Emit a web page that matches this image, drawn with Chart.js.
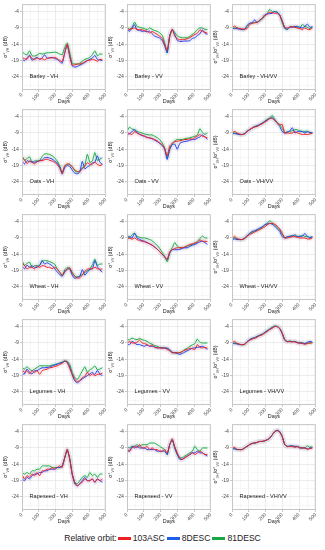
<!DOCTYPE html>
<html>
<head>
<meta charset="utf-8">
<script src="https://cdn.jsdelivr.net/npm/chart.js@4.4.1/dist/chart.umd.min.js"></script>
<style>
html, body { margin: 0; padding: 0; background: #fff; }
#wrap { position: relative; width: 325px; height: 550px; overflow: hidden; font-family: "Liberation Sans", Arial, sans-serif; }
.panel { position: absolute; }
#legend { position: absolute; left: 0; top: 533px; width: 325px; display: flex; justify-content: center; align-items: center; font-size: 8.6px; color: #222; white-space: nowrap; }
.key { display: inline-block; width: 13px; height: 3px; margin: 0 2px 0 1px; }
</style>
</head>
<body>
<div id="wrap">
  <div id="legend">
    <span>Relative orbit:</span>
    <span class="key" style="background:#ee2020"></span><span>103ASC</span>
    <span class="key" style="background:#1f5fe8;margin-left:2px"></span><span>8DESC</span>
    <span class="key" style="background:#17a844;margin-left:2px"></span><span>81DESC</span>
  </div>
</div>
<script>
// Días de adquisición (cada 15 días)
const days = [0,15,30,45,60,75,90,105,120,135,150,165,180,195,210,225,240,255,270,285,300,315,330,345,360,375,390,405,420,435,450,465,480];

// Barley
const barleyVH_103 = [-18.0,-18.4,-18.6,-17.6,-18.3,-18.7,-18.2,-18.5,-18.4,-18.8,-18.3,-18.1,-18.2,-18.0,-18.4,-18.9,-19.3,-16.5,-14.0,-17.5,-20.4,-20.3,-20.0,-20.1,-19.8,-19.4,-19.0,-18.9,-18.6,-18.8,-19.2,-18.6,-18.8];
const barleyVH_8   = [-18.6,-19.0,-18.2,-17.3,-18.9,-18.4,-18.0,-18.6,-18.2,-17.2,-18.3,-18.2,-18.0,-18.4,-18.6,-19.3,-19.8,-16.8,-14.2,-17.8,-20.6,-21.0,-20.8,-20.4,-20.0,-19.6,-19.0,-18.6,-18.2,-17.4,-18.6,-18.8,-19.0];
const barleyVH_81  = [-16.0,-17.0,-17.2,-16.0,-17.5,-17.6,-17.3,-16.8,-17.0,-16.8,-16.6,-16.6,-16.5,-16.4,-16.6,-17.0,-17.2,-15.0,-13.6,-16.5,-19.8,-20.0,-20.1,-19.8,-19.2,-18.6,-18.4,-18.0,-17.2,-16.0,-17.5,-17.0,-17.0];
const barleyVV_103 = [-9.0,-9.5,-9.2,-9.0,-9.5,-9.5,-9.6,-9.8,-10.0,-10.5,-10.1,-10.5,-11.0,-11.5,-12.2,-14.0,-15.8,-11.5,-9.4,-11.5,-12.3,-12.6,-12.6,-12.5,-12.3,-12.0,-11.4,-11.0,-10.6,-9.6,-10.0,-10.3,-10.6];
const barleyVV_8   = [-9.5,-10.0,-9.0,-8.0,-9.6,-9.8,-10.0,-10.0,-10.2,-10.0,-10.8,-11.5,-11.8,-12.1,-12.8,-14.5,-16.6,-11.3,-9.5,-11.0,-12.8,-13.1,-13.1,-13.0,-13.0,-12.9,-12.2,-12.0,-11.3,-10.8,-9.6,-10.6,-11.0];
const barleyVV_81  = [-9.0,-9.4,-8.8,-7.2,-8.5,-8.8,-9.0,-9.2,-9.5,-9.0,-9.4,-9.8,-10.0,-10.5,-11.2,-13.5,-16.6,-11.8,-9.5,-10.4,-11.4,-11.8,-12.0,-12.0,-12.0,-11.6,-11.0,-10.4,-9.5,-9.0,-9.0,-9.4,-9.5];
const barleyRt_103 = [-9.0,-8.4,-9.0,-9.2,-9.3,-9.3,-9.2,-8.0,-7.6,-7.4,-7.3,-6.8,-6.0,-5.3,-4.8,-4.2,-4.3,-4.5,-4.6,-5.2,-7.0,-8.8,-9.0,-8.8,-8.6,-8.8,-9.0,-9.2,-9.5,-9.0,-9.4,-9.5,-9.0];
const barleyRt_8   = [-9.0,-9.2,-9.2,-9.4,-9.5,-9.5,-8.2,-7.6,-7.4,-6.5,-7.4,-6.6,-6.0,-5.0,-4.7,-4.6,-4.5,-4.0,-4.2,-5.0,-6.8,-9.0,-9.4,-8.6,-8.8,-8.6,-8.5,-8.8,-9.0,-8.5,-7.8,-8.8,-8.6];
const barleyRt_81  = [-9.2,-9.0,-9.0,-9.2,-9.5,-9.4,-8.5,-7.6,-7.5,-7.4,-7.2,-6.8,-6.3,-5.4,-4.6,-3.3,-4.0,-4.0,-4.1,-5.0,-7.5,-9.2,-9.5,-8.8,-8.6,-8.5,-8.9,-9.0,-7.9,-8.5,-8.8,-9.2,-8.6];

// Oats
const oatsVH_103 = [-16.3,-17.2,-18.4,-17.6,-18.0,-18.5,-17.8,-17.5,-17.5,-17.2,-17.0,-17.4,-17.6,-18.0,-18.6,-19.8,-21.4,-19.0,-18.5,-18.6,-19.4,-20.3,-20.8,-20.8,-20.0,-19.2,-18.1,-18.6,-18.5,-18.0,-18.6,-19.0,-18.6];
const oatsVH_8   = [-17.5,-18.5,-17.5,-17.8,-17.8,-18.0,-17.8,-17.5,-17.3,-16.6,-16.5,-16.7,-17.0,-17.6,-18.2,-19.4,-21.6,-19.6,-19.0,-19.2,-20.4,-21.3,-21.5,-21.0,-17.7,-20.0,-19.4,-19.0,-18.2,-18.0,-16.0,-18.0,-18.6];
const oatsVH_81  = [-16.0,-17.4,-16.8,-16.3,-18.0,-17.6,-17.5,-17.5,-16.2,-15.4,-15.4,-15.6,-16.0,-16.6,-17.6,-19.0,-21.0,-19.2,-18.6,-18.6,-19.4,-20.6,-21.0,-20.6,-19.6,-19.0,-15.5,-18.0,-17.6,-15.0,-17.4,-17.0,-16.6];
const oatsVV_103 = [-9.0,-9.2,-9.5,-8.6,-9.0,-9.4,-9.7,-10.0,-10.4,-10.5,-10.7,-11.0,-11.4,-12.0,-12.6,-13.8,-16.0,-13.0,-12.2,-11.7,-11.5,-11.4,-11.2,-11.0,-11.0,-10.8,-10.9,-10.4,-10.0,-9.5,-10.0,-10.2,-10.5];
const oatsVV_8   = [-9.5,-9.2,-8.6,-8.0,-9.0,-9.4,-9.8,-10.0,-10.4,-10.5,-10.8,-11.2,-11.6,-12.2,-12.8,-14.0,-17.1,-14.0,-12.6,-12.4,-14.0,-12.2,-11.8,-11.6,-11.5,-11.2,-11.0,-11.0,-10.6,-10.2,-9.6,-10.2,-11.0];
const oatsVV_81  = [-8.6,-7.2,-7.8,-8.0,-8.5,-8.8,-9.0,-9.3,-9.5,-9.6,-9.6,-10.0,-10.4,-11.0,-12.0,-13.6,-16.5,-14.0,-12.2,-11.4,-11.0,-11.0,-11.0,-10.8,-10.6,-10.5,-10.2,-10.0,-9.6,-7.7,-8.8,-9.4,-9.0];
const oatsRt_103 = [-9.0,-8.5,-9.0,-9.3,-9.5,-9.3,-8.6,-8.0,-7.5,-7.2,-7.0,-6.6,-6.2,-5.7,-5.2,-4.6,-4.6,-5.2,-6.0,-6.5,-6.4,-9.0,-9.0,-9.1,-9.0,-8.6,-9.0,-9.2,-9.5,-9.4,-9.5,-9.3,-9.0];
const oatsRt_8   = [-9.2,-9.2,-9.3,-9.5,-9.5,-9.2,-8.5,-8.0,-7.5,-7.0,-6.8,-6.4,-6.0,-5.5,-5.0,-4.6,-4.3,-5.0,-6.0,-7.0,-8.6,-9.0,-8.8,-8.4,-7.4,-9.0,-8.6,-8.5,-8.6,-9.0,-8.6,-8.8,-9.0];
const oatsRt_81  = [-9.0,-9.0,-9.2,-9.5,-9.5,-9.2,-8.5,-8.0,-7.5,-7.1,-6.8,-6.5,-6.0,-5.4,-4.8,-4.4,-3.6,-4.8,-5.8,-6.4,-7.6,-9.0,-8.6,-8.5,-8.3,-8.0,-8.0,-8.4,-8.5,-8.5,-8.5,-9.0,-9.0];

// Wheat
const wheatVH_103 = [-16.5,-17.5,-18.5,-18.0,-18.0,-18.5,-17.6,-18.0,-17.5,-17.6,-18.0,-18.0,-18.4,-18.0,-18.5,-19.4,-20.4,-19.2,-18.5,-18.2,-19.8,-20.8,-21.3,-21.2,-20.4,-19.2,-18.6,-18.4,-18.4,-18.0,-18.4,-18.6,-18.5];
const wheatVH_8   = [-17.5,-18.5,-17.3,-18.0,-17.5,-18.0,-18.0,-17.5,-15.9,-17.0,-16.6,-17.0,-17.5,-18.4,-19.4,-20.2,-20.7,-19.5,-18.6,-18.5,-20.4,-21.4,-21.0,-20.8,-18.7,-20.4,-19.5,-18.6,-18.5,-16.0,-17.8,-18.8,-19.5];
const wheatVH_81  = [-16.0,-17.4,-16.8,-16.4,-18.0,-17.5,-17.5,-17.4,-16.2,-15.9,-16.0,-16.2,-16.6,-17.0,-18.4,-19.6,-20.5,-18.8,-18.0,-18.2,-19.5,-20.6,-21.0,-20.6,-20.2,-19.6,-19.0,-18.6,-17.2,-15.5,-17.4,-17.0,-17.0];
const wheatVV_103 = [-9.5,-9.0,-9.4,-9.0,-9.5,-9.8,-10.0,-10.2,-10.5,-10.8,-11.2,-11.8,-12.4,-13.2,-14.0,-14.8,-15.6,-13.2,-12.6,-12.2,-12.0,-12.0,-12.0,-11.8,-11.4,-11.0,-10.8,-10.5,-10.4,-9.6,-10.0,-10.0,-10.1];
const wheatVV_8   = [-9.0,-8.6,-9.0,-7.6,-9.0,-9.4,-9.8,-10.0,-10.4,-10.8,-11.2,-11.8,-12.4,-13.2,-14.0,-14.8,-15.6,-13.6,-12.6,-12.6,-12.6,-12.5,-12.2,-12.0,-12.0,-11.6,-11.2,-11.0,-10.6,-10.2,-10.0,-10.4,-11.0];
const wheatVV_81  = [-8.0,-9.0,-8.0,-7.5,-8.5,-8.8,-9.0,-9.0,-9.2,-9.5,-9.8,-10.6,-11.2,-12.2,-13.4,-14.6,-16.3,-13.6,-12.0,-10.4,-11.5,-12.0,-12.0,-11.8,-11.5,-11.2,-11.0,-10.6,-10.0,-9.2,-8.4,-9.0,-9.0];
const wheatRt_103 = [-9.2,-8.5,-9.2,-9.4,-9.5,-9.2,-8.5,-8.0,-7.6,-7.2,-6.8,-6.5,-6.0,-5.6,-5.0,-4.6,-4.5,-4.8,-5.4,-6.2,-7.6,-9.0,-9.0,-8.8,-8.6,-8.6,-8.8,-9.0,-9.0,-9.0,-9.3,-9.3,-9.0];
const wheatRt_8   = [-9.5,-9.3,-9.5,-9.5,-9.5,-9.0,-8.3,-7.6,-7.0,-6.8,-6.4,-6.0,-5.6,-5.0,-4.7,-4.5,-4.8,-5.4,-6.2,-7.0,-8.6,-9.0,-8.6,-8.5,-8.5,-8.0,-8.6,-8.5,-8.5,-7.6,-8.5,-9.0,-8.6];
const wheatRt_81  = [-9.3,-9.0,-9.3,-9.5,-9.5,-9.2,-8.5,-7.6,-7.3,-7.0,-6.6,-6.2,-5.8,-5.0,-4.5,-3.7,-4.4,-5.0,-5.8,-6.6,-7.8,-9.0,-8.8,-8.5,-8.2,-8.4,-8.5,-8.5,-8.2,-8.5,-8.6,-8.8,-8.6];

// Legumes
const legumesVH_103 = [-17.1,-18.0,-17.5,-18.5,-17.5,-18.0,-17.5,-18.6,-17.5,-17.2,-17.0,-16.6,-16.5,-16.2,-16.0,-15.6,-15.2,-14.6,-15.0,-16.8,-18.6,-20.2,-20.8,-20.6,-19.6,-19.2,-18.0,-19.0,-18.5,-19.0,-18.6,-18.6,-18.2];
const legumesVH_8   = [-18.5,-18.5,-17.0,-18.0,-18.5,-17.5,-17.5,-17.0,-16.6,-16.6,-16.5,-16.4,-16.0,-15.8,-15.5,-15.2,-15.0,-14.6,-14.8,-16.4,-18.8,-20.6,-21.2,-20.6,-20.0,-19.5,-19.0,-18.5,-18.0,-18.6,-17.4,-18.5,-19.0];
const legumesVH_81  = [-16.5,-17.0,-16.3,-17.0,-17.5,-17.0,-16.5,-16.0,-16.0,-16.0,-16.0,-16.0,-15.8,-15.6,-15.4,-15.2,-14.8,-14.5,-14.6,-15.6,-18.0,-19.6,-20.2,-19.0,-17.6,-16.3,-18.0,-17.2,-16.8,-16.0,-17.2,-17.0,-16.6];
const legumesVV_103 = [-9.0,-8.6,-9.0,-9.0,-8.8,-8.1,-9.0,-9.2,-9.5,-10.0,-9.6,-10.4,-10.5,-10.5,-10.6,-10.5,-11.0,-11.4,-12.0,-12.0,-12.0,-12.0,-11.6,-11.2,-11.0,-10.6,-10.8,-11.0,-9.5,-10.4,-10.5,-10.4,-10.6];
const legumesVV_8   = [-9.5,-9.5,-8.5,-9.0,-9.5,-9.5,-9.8,-10.0,-9.6,-10.0,-10.0,-10.2,-10.5,-10.5,-10.5,-10.6,-10.6,-11.0,-11.8,-12.0,-12.2,-12.5,-12.2,-11.8,-11.4,-11.0,-10.6,-10.5,-10.4,-10.2,-10.0,-10.4,-11.0];
const legumesVV_81  = [-8.0,-8.0,-7.5,-7.8,-8.0,-7.6,-8.0,-8.2,-8.5,-9.0,-9.4,-9.8,-10.0,-10.4,-10.5,-10.5,-10.6,-11.4,-12.0,-12.0,-12.0,-12.0,-11.6,-11.0,-10.6,-10.0,-9.6,-9.2,-7.8,-8.8,-9.0,-9.0,-9.0];
const legumesRt_103 = [-9.0,-8.5,-9.1,-9.4,-9.5,-9.5,-8.8,-8.2,-7.8,-7.6,-7.2,-6.8,-6.5,-6.0,-5.5,-4.9,-4.5,-4.0,-4.0,-4.6,-6.0,-8.0,-8.6,-8.6,-8.7,-8.6,-9.0,-9.0,-9.2,-9.4,-9.2,-9.0,-9.0];
const legumesRt_8   = [-9.2,-9.2,-9.3,-9.5,-9.5,-9.4,-8.6,-8.0,-7.6,-7.4,-7.0,-6.7,-6.4,-5.8,-5.3,-4.8,-4.3,-3.9,-4.0,-4.6,-6.2,-8.2,-8.6,-8.5,-8.6,-8.6,-8.9,-9.0,-9.0,-9.2,-8.8,-8.5,-8.8];
const legumesRt_81  = [-9.0,-9.0,-9.2,-9.4,-9.6,-9.4,-8.6,-8.0,-7.6,-7.4,-7.0,-6.6,-6.3,-5.8,-5.2,-4.7,-4.2,-3.8,-3.9,-4.5,-6.0,-8.0,-8.5,-8.4,-8.6,-8.5,-8.8,-9.0,-9.0,-9.2,-9.0,-9.0,-8.8];

// Rapeseed
const rapeseedVH_103 = [-17.1,-18.5,-17.5,-18.0,-17.0,-17.5,-16.5,-17.5,-16.0,-16.0,-15.5,-15.5,-15.0,-15.5,-15.0,-14.5,-15.0,-12.0,-9.4,-12.5,-17.0,-19.5,-20.6,-20.0,-19.5,-18.5,-19.0,-19.0,-18.5,-19.5,-18.5,-19.0,-18.5];
const rapeseedVH_8   = [-18.5,-19.0,-18.0,-18.5,-17.5,-17.0,-17.0,-16.5,-16.5,-16.0,-16.0,-15.5,-15.5,-15.5,-15.0,-15.0,-14.5,-12.0,-9.5,-12.2,-17.2,-20.0,-20.6,-20.0,-19.0,-18.0,-19.0,-19.0,-18.5,-19.5,-18.5,-19.0,-19.5];
const rapeseedVH_81  = [-16.5,-17.0,-16.5,-17.0,-16.0,-16.0,-15.5,-15.5,-14.5,-14.5,-14.5,-14.5,-15.0,-15.0,-15.0,-15.0,-14.5,-12.0,-9.6,-12.4,-17.0,-19.5,-20.0,-19.0,-18.0,-17.5,-18.0,-16.5,-17.5,-17.0,-18.0,-17.0,-17.0];
const rapeseedVV_103 = [-9.0,-10.0,-9.0,-8.5,-9.0,-8.0,-9.0,-9.0,-8.5,-9.5,-9.0,-9.5,-9.5,-10.0,-10.0,-9.5,-10.5,-8.0,-6.2,-8.5,-10.5,-12.0,-12.5,-12.0,-11.5,-11.0,-10.5,-11.0,-10.5,-10.0,-10.5,-11.0,-11.0];
const rapeseedVV_8   = [-10.0,-10.0,-8.5,-9.0,-8.5,-9.0,-9.0,-9.0,-9.5,-9.5,-9.5,-9.5,-10.0,-10.0,-10.0,-10.0,-11.0,-8.0,-6.5,-9.0,-11.0,-12.5,-12.5,-12.0,-11.5,-11.0,-10.5,-10.5,-10.0,-10.5,-10.5,-11.0,-11.5];
const rapeseedVV_81  = [-8.5,-9.0,-8.5,-8.5,-8.0,-8.5,-8.0,-8.0,-8.0,-7.5,-7.5,-7.5,-8.0,-8.5,-9.0,-9.5,-11.0,-8.0,-6.5,-9.0,-11.0,-12.0,-12.0,-11.5,-11.0,-10.5,-10.0,-8.5,-9.5,-10.0,-9.0,-9.0,-9.0];
const rapeseedRt_103 = [-9.0,-8.8,-9.4,-9.5,-9.5,-9.0,-8.5,-8.0,-7.6,-7.5,-7.3,-7.0,-7.0,-6.8,-6.5,-6.0,-5.0,-4.0,-3.7,-4.2,-5.6,-8.0,-8.6,-8.5,-8.6,-8.8,-8.6,-9.0,-9.0,-9.0,-9.4,-9.2,-9.0];
const rapeseedRt_8   = [-9.2,-9.3,-9.5,-9.5,-9.5,-9.0,-8.5,-8.0,-7.6,-7.5,-7.3,-7.0,-7.0,-6.8,-6.5,-6.0,-5.0,-4.0,-3.6,-4.0,-5.5,-8.0,-8.5,-8.5,-8.3,-8.5,-8.5,-9.0,-9.0,-9.0,-9.3,-9.0,-9.0];
const rapeseedRt_81  = [-9.0,-9.2,-9.5,-9.5,-9.5,-9.0,-8.5,-8.0,-7.6,-7.5,-7.3,-7.0,-7.0,-6.8,-6.5,-6.0,-5.0,-4.0,-3.6,-4.0,-5.5,-8.0,-8.5,-8.4,-8.5,-8.6,-8.6,-8.8,-9.0,-9.0,-8.3,-8.8,-8.6];

// Ejes
const yMajor = [-4, -9, -14, -19, -24];
const yMinor = [-26.5, -21.5, -16.5, -11.5, -6.5];
const xMajor = [0, 100, 200, 300, 400, 500];
const xMinor = [50, 150, 250, 350, 450];

const orbitColors = ['#ee2020', '#1f40ee', '#17a844'];
const bandColors = ['rgba(230, 90, 110, 0.09)', 'rgba(110, 110, 220, 0.09)', 'rgba(90, 190, 120, 0.09)'];

const panels = [
    { crop: 'Barley - VH', pol: 'VH', s: [barleyVH_103, barleyVH_8, barleyVH_81] },
    { crop: 'Barley - VV', pol: 'VV', s: [barleyVV_103, barleyVV_8, barleyVV_81] },
    { crop: 'Barley - VH/VV', pol: 'RT', s: [barleyRt_103, barleyRt_8, barleyRt_81] },
    { crop: 'Oats - VH', pol: 'VH', s: [oatsVH_103, oatsVH_8, oatsVH_81] },
    { crop: 'Oats - VV', pol: 'VV', s: [oatsVV_103, oatsVV_8, oatsVV_81] },
    { crop: 'Oats - VH/VV', pol: 'RT', s: [oatsRt_103, oatsRt_8, oatsRt_81] },
    { crop: 'Wheat - VH', pol: 'VH', s: [wheatVH_103, wheatVH_8, wheatVH_81] },
    { crop: 'Wheat - VV', pol: 'VV', s: [wheatVV_103, wheatVV_8, wheatVV_81] },
    { crop: 'Wheat - VH/VV', pol: 'RT', s: [wheatRt_103, wheatRt_8, wheatRt_81] },
    { crop: 'Legumes - VH', pol: 'VH', s: [legumesVH_103, legumesVH_8, legumesVH_81] },
    { crop: 'Legumes - VV', pol: 'VV', s: [legumesVV_103, legumesVV_8, legumesVV_81] },
    { crop: 'Legumes - VH/VV', pol: 'RT', s: [legumesRt_103, legumesRt_8, legumesRt_81] },
    { crop: 'Rapeseed - VH', pol: 'VH', s: [rapeseedVH_103, rapeseedVH_8, rapeseedVH_81] },
    { crop: 'Rapeseed - VV', pol: 'VV', s: [rapeseedVV_103, rapeseedVV_8, rapeseedVV_81] },
    { crop: 'Rapeseed - VH/VV', pol: 'RT', s: [rapeseedRt_103, rapeseedRt_8, rapeseedRt_81] }
];

// Título del eje Y con subíndices
function drawYTitle(ctx, x, y, pol) {
    ctx.save();
    ctx.translate(x, y);
    ctx.rotate(-Math.PI / 2);
    ctx.fillStyle = '#222';
    ctx.textBaseline = 'alphabetic';
    const parts = pol === 'RT'
        ? [['σ°', 0], ['VH', 1], ['/σ°', 0], ['VV', 1], [' (dB)', 0]]
        : [['σ°', 0], [pol, 1], [' (dB)', 0]];
    let w = 0;
    parts.forEach(p => { ctx.font = (p[1] ? 3.6 : 5.2) + 'px "Liberation Sans", Arial'; w += ctx.measureText(p[0]).width; });
    let cx = -w / 2;
    parts.forEach(p => {
        ctx.font = (p[1] ? 3.6 : 5.2) + 'px "Liberation Sans", Arial';
        ctx.fillText(p[0], cx, p[1] ? 1.5 : 0);
        cx += ctx.measureText(p[0]).width;
    });
    ctx.restore();
}

// Plugin: marco del panel, etiqueta del cultivo y título Y
const panelDecor = {
    id: 'panelDecor',
    afterDraw(chart, args, opts) {
        const { ctx, chartArea: a, scales } = chart;
        ctx.save();
        ctx.strokeStyle = '#c6c6c6';
        ctx.lineWidth = 1;
        ctx.strokeRect(a.left + 0.5, a.top + 0.5, a.width - 1, a.height - 1);
        ctx.fillStyle = '#222';
        ctx.font = '5.6px "Liberation Sans", Arial';
        ctx.textBaseline = 'middle';
        ctx.fillText(opts.text, scales.x.getPixelForValue(45), scales.y.getPixelForValue(-23.8));
        ctx.restore();
        drawYTitle(ctx, 7, (a.top + a.bottom) / 2, opts.pol);
    }
};

const wrap = document.getElementById('wrap');

panels.forEach((p, idx) => {
    const row = Math.floor(idx / 3);
    const col = idx % 3;
    const canvas = document.createElement('canvas');
    canvas.className = 'panel';
    canvas.width = 110;
    canvas.height = 105;
    canvas.style.left = (col * 105) + 'px';
    canvas.style.top = (row * 105) + 'px';
    wrap.appendChild(canvas);

    const lines = p.s.map((vals, k) => ({
        data: days.map((d, i) => ({ x: d, y: vals[i] })),
        borderColor: orbitColors[k],
        borderWidth: 1,
        pointRadius: 0,
        tension: 0.15,
        fill: false
    }));
    const bands = p.s.map((vals, k) => ({
        data: days.map((d, i) => ({ x: d, y: vals[i] })),
        borderColor: bandColors[k],
        borderWidth: 5,
        pointRadius: 0,
        tension: 0.15,
        fill: false
    }));

    new Chart(canvas, {
        type: 'line',
        data: { datasets: lines.concat(bands) },
        options: {
            responsive: false,
            animation: false,
            events: [],
            layout: { padding: { top: 4, right: 3, left: 0, bottom: 0 } },
            plugins: {
                legend: { display: false },
                tooltip: { enabled: false },
                panelDecor: { text: p.crop, pol: p.pol }
            },
            scales: {
                x: {
                    type: 'linear',
                    min: 0,
                    max: 500,
                    afterBuildTicks: s => { s.ticks = xMajor.concat(xMinor).sort((a, b) => a - b).map(v => ({ value: v })); },
                    afterFit: s => { s.height = 15; },
                    border: { display: false },
                    grid: {
                        color: c => xMajor.includes(c.tick.value) ? '#e4e4e4' : '#f3f3f3',
                        tickColor: c => xMajor.includes(c.tick.value) ? '#b0b0b0' : 'rgba(0,0,0,0)',
                        tickLength: 2,
                        lineWidth: 0.7
                    },
                    ticks: {
                        autoSkip: false,
                        minRotation: 45,
                        maxRotation: 45,
                        padding: 0,
                        color: '#4d4d4d',
                        font: { size: 5, family: '"Liberation Sans", Arial' },
                        callback: v => xMajor.includes(v) ? String(v) : ''
                    },
                    title: {
                        display: true,
                        text: 'Days',
                        color: '#222',
                        padding: 0,
                        font: { size: 5.4, family: '"Liberation Sans", Arial' }
                    }
                },
                y: {
                    min: -28,
                    max: -1.7,
                    afterBuildTicks: s => { s.ticks = yMajor.concat(yMinor).sort((a, b) => a - b).map(v => ({ value: v })); },
                    afterFit: s => { s.width = 22; },
                    border: { display: false },
                    grid: {
                        color: c => yMajor.includes(c.tick.value) ? '#e4e4e4' : '#f3f3f3',
                        tickColor: c => yMajor.includes(c.tick.value) ? '#b0b0b0' : 'rgba(0,0,0,0)',
                        tickLength: 2,
                        lineWidth: 0.7
                    },
                    ticks: {
                        autoSkip: false,
                        padding: 1,
                        color: '#4d4d4d',
                        font: { size: 5.2, family: '"Liberation Sans", Arial' },
                        callback: v => yMajor.includes(v) ? String(v) : ''
                    }
                }
            }
        },
        plugins: [panelDecor]
    });
});
</script>
</body>
</html>
